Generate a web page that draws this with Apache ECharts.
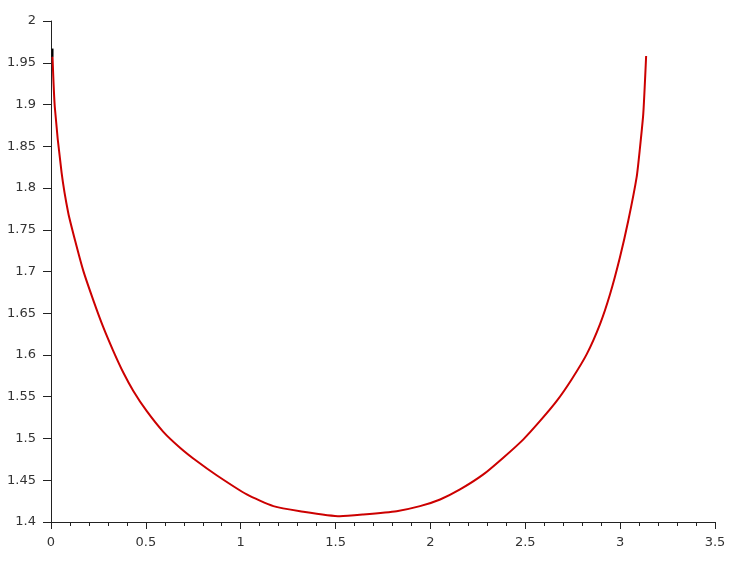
<!DOCTYPE html>
<html>
<head>
<meta charset="utf-8">
<script src="https://cdn.jsdelivr.net/npm/echarts@6/dist/echarts.min.js"></script>
<style>
  html, body { margin: 0; padding: 0; background: #fff; }
  #chart { width: 738px; height: 568px; }
</style>
</head>
<body>
<div id="chart"></div>
<script>
// curve samples
var xs = [0.008, 0.02, 0.056, 0.091, 0.127, 0.17, 0.227, 0.276, 0.328, 0.381, 0.434, 0.504,
  0.592, 0.68, 0.768, 0.873, 1.032, 1.172, 1.313, 1.523, 1.646, 1.822, 1.945, 2.051,
  2.156, 2.279, 2.384, 2.49, 2.578, 2.666, 2.745, 2.824, 2.894, 2.947, 2.999, 3.043,
  3.087, 3.104, 3.122, 3.137]
var ys = [1.957, 1.897, 1.818, 1.770, 1.737, 1.701, 1.663, 1.633, 1.605, 1.579, 1.557, 1.533,
  1.508, 1.489, 1.473, 1.456, 1.433, 1.419, 1.413, 1.407, 1.409, 1.413, 1.419, 1.427,
  1.439, 1.457, 1.477, 1.499, 1.521, 1.545, 1.571, 1.601, 1.637, 1.673, 1.717, 1.761,
  1.813, 1.847, 1.889, 1.958]
// short black stub at the top left
var stubX = [0.008, 0.008]
var stubY = [1.957, 1.967]

var curve = xs.map(function (x, i) { return [x, ys[i]] })
var stub = stubX.map(function (x, i) { return [x, stubY[i]] })

var chart = echarts.init(document.getElementById('chart'))
var labelStyle = { color: '#333', fontFamily: 'DejaVu Sans', fontSize: 13 }
chart.setOption({
  animation: false,
  backgroundColor: '#fff',
  grid: { left: 51, right: 23, top: 21, bottom: 46 },
  xAxis: {
    type: 'value',
    min: 0,
    max: 3.5,
    interval: 0.5,
    splitLine: { show: false },
    axisLine: { lineStyle: { color: '#222', width: 1 } },
    axisTick: { length: 7, lineStyle: { color: '#222' } },
    minorTick: { show: true, splitNumber: 5, length: 4, lineStyle: { color: '#222' } },
    axisLabel: Object.assign({ margin: 14 }, labelStyle)
  },
  yAxis: {
    type: 'value',
    min: 1.4,
    max: 2,
    interval: 0.05,
    splitLine: { show: false },
    axisLine: { show: true, lineStyle: { color: '#222', width: 1 } },
    axisTick: { show: true, length: 8, lineStyle: { color: '#222' } },
    axisLabel: Object.assign({ margin: 15 }, labelStyle)
  },
  series: [
    {
      type: 'line',
      data: stub,
      symbol: 'none',
      lineStyle: { color: '#000', width: 2 }
    },
    {
      type: 'line',
      data: curve,
      symbol: 'none',
      smooth: 0.2,
      lineStyle: { color: '#cc0000', width: 2 }
    }
  ]
})
</script>
</body>
</html>
